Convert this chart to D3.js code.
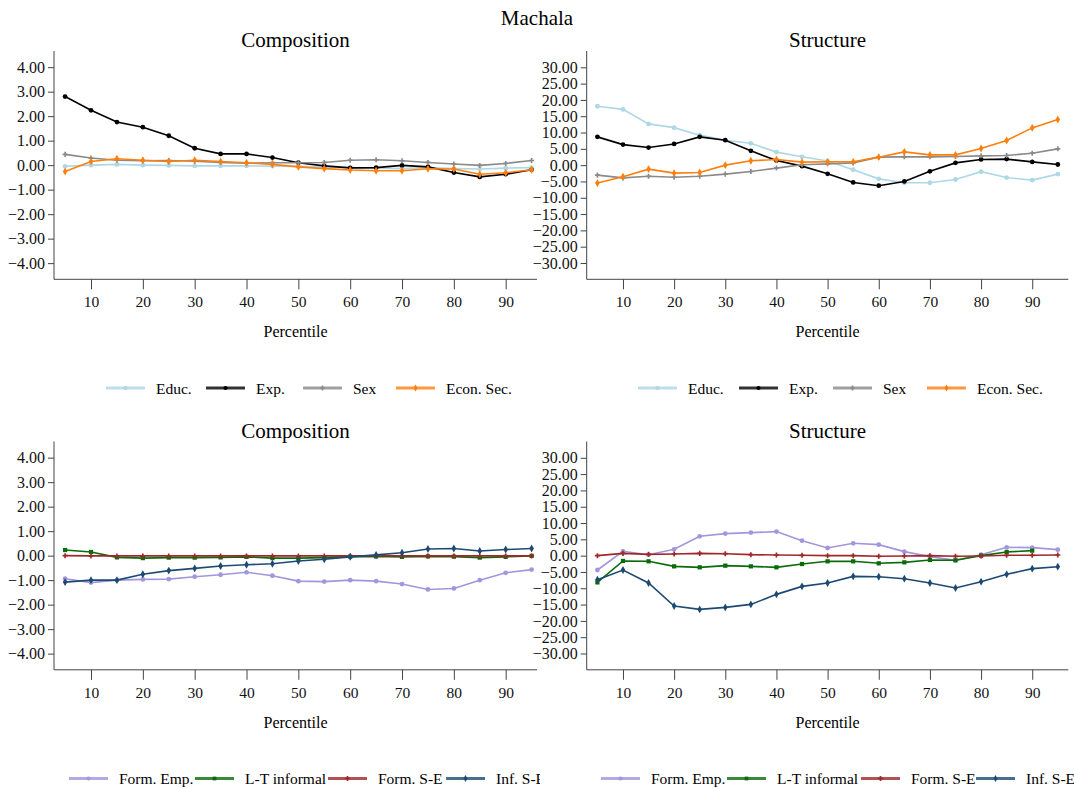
<!DOCTYPE html>
<html>
<head>
<meta charset="utf-8">
<script src="https://cdn.jsdelivr.net/npm/d3@7"></script>
<style>
  body { margin: 0; background: #fff; }
  svg text { font-family: "Liberation Serif", "Times New Roman", Times, "DejaVu Serif", serif; }
</style>
</head>
<body>
<script>
// percentiles on x
const percentiles = [5,10,15,20,25,30,35,40,45,50,55,60,65,70,75,80,85,90,95];
const xTicks = [10,20,30,40,50,60,70,80,90];

// top row: Composition
const compEduc = [-0.05,0.00,0.03,0.00,-0.01,-0.03,-0.03,-0.03,-0.04,-0.05,-0.08,-0.10,-0.12,-0.14,-0.10,-0.14,-0.16,-0.12,-0.10];
const compExp  = [2.80,2.24,1.76,1.55,1.20,0.69,0.46,0.46,0.31,0.10,-0.03,-0.11,-0.10,-0.01,-0.07,-0.30,-0.48,-0.37,-0.19];
const compSex  = [0.44,0.29,0.20,0.18,0.19,0.16,0.11,0.08,0.10,0.10,0.11,0.20,0.22,0.18,0.11,0.05,-0.01,0.07,0.19];
const compEcon = [-0.26,0.15,0.26,0.20,0.15,0.20,0.15,0.10,0.03,-0.07,-0.14,-0.20,-0.23,-0.23,-0.15,-0.16,-0.37,-0.31,-0.19];

// top row: Structure
const strEduc = [18.06,17.10,12.65,11.50,9.20,7.65,6.70,4.00,2.55,1.30,-1.40,-4.20,-5.40,-5.40,-4.40,-2.00,-3.80,-4.60,-2.75];
const strExp  = [8.67,6.30,5.40,6.50,8.67,7.65,4.40,1.40,-0.30,-2.65,-5.30,-6.30,-5.00,-1.90,0.70,1.75,1.85,1.00,0.20];
const strSex  = [-3.06,-3.90,-3.40,-3.70,-3.40,-2.75,-1.95,-0.90,0.10,0.40,0.70,2.45,2.55,2.55,2.65,2.85,2.95,3.67,5.00];
const strEcon = [-5.50,-3.57,-1.22,-2.45,-2.25,0.00,1.33,1.73,0.92,1.02,1.02,2.45,4.08,3.16,3.16,5.10,7.55,11.43,13.98];

// bottom row: Composition
const compFormEmp = [-0.94,-1.10,-1.00,-0.97,-0.96,-0.86,-0.78,-0.68,-0.82,-1.04,-1.06,-1.00,-1.04,-1.16,-1.38,-1.34,-1.00,-0.70,-0.57];
const compLTinf   = [0.23,0.15,-0.07,-0.10,-0.08,-0.08,-0.07,-0.05,-0.10,-0.10,-0.08,-0.04,-0.03,-0.05,-0.03,-0.04,-0.08,-0.05,-0.01];
const compFormSE  = [0.00,-0.01,-0.01,-0.01,-0.01,-0.01,-0.01,-0.01,-0.01,-0.01,-0.01,-0.01,-0.01,-0.01,-0.01,-0.01,-0.01,-0.01,-0.01];
const compInfSE   = [-1.08,-1.00,-1.00,-0.76,-0.61,-0.52,-0.42,-0.37,-0.33,-0.22,-0.15,-0.05,0.03,0.12,0.27,0.29,0.19,0.25,0.29];

// bottom row: Structure
const strFormEmp = [-4.40,1.33,0.30,1.94,5.94,6.76,7.06,7.37,4.60,2.35,3.79,3.38,1.23,-0.30,-1.43,0.30,2.56,2.46,1.84];
const strLTinf   = [-8.20,-1.64,-1.74,-3.28,-3.58,-3.07,-3.28,-3.58,-2.56,-1.74,-1.74,-2.35,-2.05,-1.33,-1.43,0.00,1.13,1.54,null];
const strFormSE  = [0.00,0.70,0.40,0.50,0.70,0.60,0.30,0.20,0.10,0.00,0.00,-0.20,-0.10,0.00,-0.20,-0.10,0.10,0.10,0.20];
const strInfSE   = [-7.37,-4.40,-8.39,-15.45,-16.48,-15.86,-14.94,-11.87,-9.42,-8.39,-6.35,-6.45,-7.06,-8.39,-9.93,-7.98,-5.73,-3.99,-3.38];

const compTicks = [4,3,2,1,0,-1,-2,-3,-4];
const strTicks = [30,25,20,15,10,5,0,-5,-10,-15,-20,-25,-30];

const topNames = ["Educ.", "Exp.", "Sex", "Econ. Sec."];
const topColors = ["#add8e6", "#000000", "#8a8a8a", "#ff7f0e"];
const topSymbols = [d3.symbolCircle, d3.symbolCircle, d3.symbolCross, d3.symbolDiamond];
const botNames = ["Form. Emp.", "L-T informal", "Form. S-E", "Inf. S-E"];
const botColors = ["#a097dc", "#0a6b0a", "#a0282b", "#1d4a72"];
const botSymbols = [d3.symbolCircle, d3.symbolSquare, d3.symbolCross, d3.symbolDiamond];

const FONT = "'Liberation Serif', 'Times New Roman', Times, 'DejaVu Serif', serif";
const W = 1074, H = 788;
const svg = d3.select("body").append("svg").attr("width", W).attr("height", H)
  .attr("font-family", FONT);

svg.append("text").attr("x", 537).attr("y", 25).attr("text-anchor", "middle")
  .attr("font-size", 21).text("Machala");

const panels = [
  {title: "Composition", top: 0, ax: 54, ar: 537, px5: 65.1, px95: 531.6, dom: 4.66, ticks: compTicks,
   series: [compEduc, compExp, compSex, compEcon], names: topNames, colors: topColors, symbols: topSymbols,
   legX: [106, 206, 303, 396], legW: 540},
  {title: "Structure", top: 0, ax: 586.7, ar: 1068.3, px5: 597.4, px95: 1057.8, dom: 35, ticks: strTicks,
   series: [strEduc, strExp, strSex, strEcon], names: topNames, colors: topColors, symbols: topSymbols,
   legX: [638, 739, 833, 927], legW: 1074},
  {title: "Composition", top: 390.5, ax: 54, ar: 537, px5: 65.1, px95: 531.6, dom: 4.66, ticks: compTicks,
   series: [compFormEmp, compLTinf, compFormSE, compInfSE], names: botNames, colors: botColors, symbols: botSymbols,
   legX: [69, 195, 328, 446], legW: 540},
  {title: "Structure", top: 390.5, ax: 586.7, ar: 1068.3, px5: 597.4, px95: 1057.8, dom: 35, ticks: strTicks,
   series: [strFormEmp, strLTinf, strFormSE, strInfSE], names: botNames, colors: botColors, symbols: botSymbols,
   legX: [601, 727, 861, 976], legW: 1074}
];

panels.forEach((p, pi) => {
  const g = svg.append("g").attr("transform", `translate(0,${p.top})`);
  const yTop = 51, yBot = 279.3;
  const x = d3.scaleLinear().domain([5, 95]).range([p.px5, p.px95]);
  const y = d3.scaleLinear().domain([-p.dom, p.dom]).range([yBot, yTop]);

  g.append("text").attr("x", (p.ax + p.ar) / 2).attr("y", 47).attr("text-anchor", "middle")
    .attr("font-size", 21).text(p.title);

  // y axis
  const ya = g.append("g").attr("transform", `translate(${p.ax},0)`)
    .call(d3.axisLeft(y).tickValues(p.ticks).tickFormat(d3.format(".2f")).tickSize(6).tickPadding(3))
    .attr("font-family", FONT).attr("font-size", 16);
  ya.select(".domain").attr("d", `M0,${yTop}V${yBot}`);
  ya.selectAll("text").attr("fill", "#111");
  ya.selectAll(".domain, line").attr("stroke", "#444");

  // x axis
  const xa = g.append("g").attr("transform", `translate(0,${yBot})`)
    .call(d3.axisBottom(x).tickValues(xTicks).tickFormat(d3.format("d")).tickSize(10).tickPadding(7))
    .attr("font-family", FONT).attr("font-size", 15.5);
  xa.select(".domain").attr("d", `M${p.ax},0H${p.ar}`);
  xa.selectAll("text").attr("fill", "#111");
  xa.selectAll(".domain, line").attr("stroke", "#444");

  g.append("text").attr("x", (p.ax + p.ar) / 2).attr("y", 337).attr("text-anchor", "middle")
    .attr("font-size", 16).text("Percentile");

  const line = d3.line().defined(d => d != null).x((d, i) => x(percentiles[i])).y(d => y(d));

  p.series.forEach((s, si) => {
    g.append("path").datum(s).attr("d", line).attr("fill", "none")
      .attr("stroke", p.colors[si]).attr("stroke-width", 1.6);
    g.selectAll(null).data(s.map((v, i) => [percentiles[i], v]).filter(d => d[1] != null))
      .join("path")
      .attr("transform", d => `translate(${x(d[0])},${y(d[1])})`)
      .attr("d", d3.symbol().type(p.symbols[si]).size(p.symbols[si] === d3.symbolCross ? 14 : 18))
      .attr("fill", p.colors[si]);
  });

  // legend
  const clipId = "clip" + pi;
  g.append("clipPath").attr("id", clipId).append("rect")
    .attr("x", p.legW - 540).attr("y", 360).attr("width", 540).attr("height", 40);
  const lg = g.append("g").attr("clip-path", `url(#${clipId})`);
  p.names.forEach((n, ni) => {
    const lx = p.legX[ni], ly = 388;
    lg.append("line").attr("x1", lx).attr("x2", lx + 39).attr("y1", ly).attr("y2", ly)
      .attr("stroke", p.colors[ni]).attr("stroke-width", 3).attr("opacity", 0.8);
    lg.append("path").attr("transform", `translate(${lx + 19.5},${ly})`)
      .attr("d", d3.symbol().type(p.symbols[ni]).size(14)).attr("fill", p.colors[ni]);
    lg.append("text").attr("x", lx + 50).attr("y", ly + 5.5).attr("font-size", 15.5).text(n);
  });
});
</script>
</body>
</html>
